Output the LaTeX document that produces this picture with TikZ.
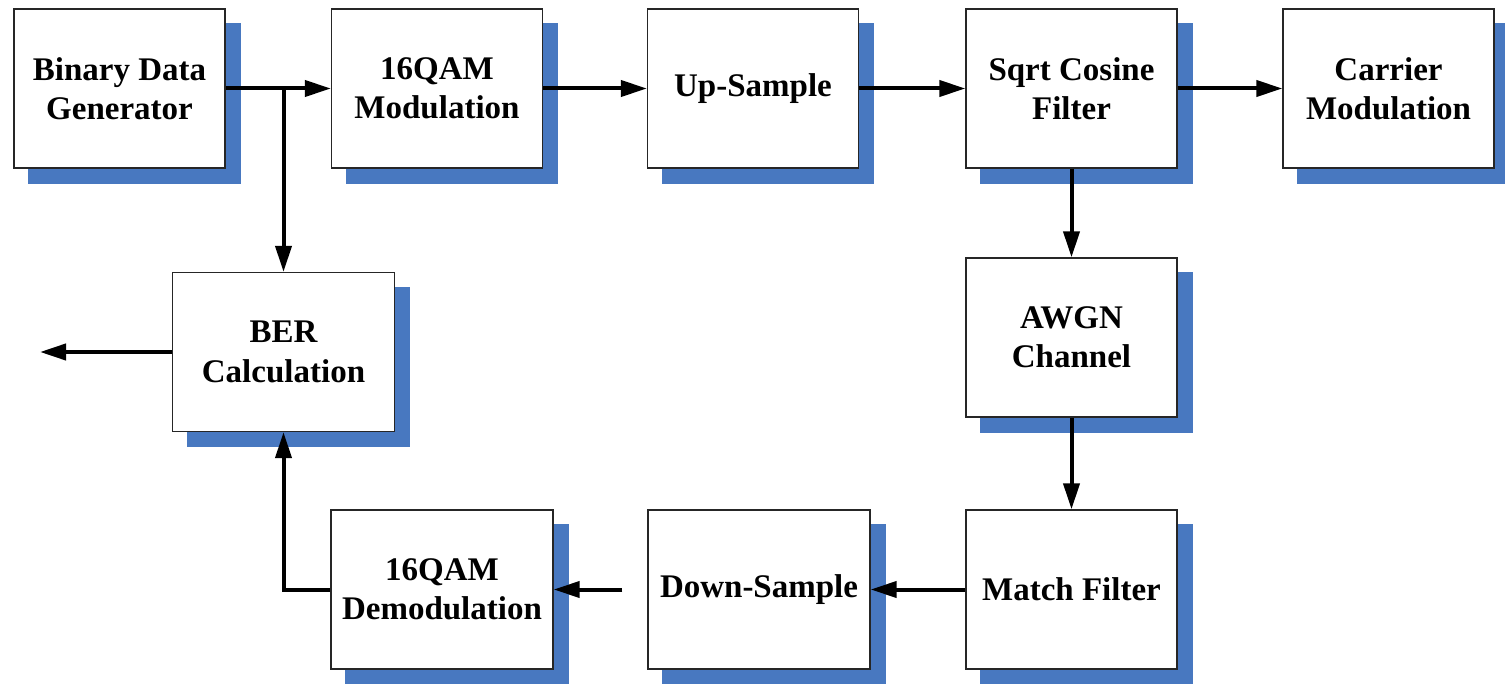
\documentclass[tikz,border=0pt]{standalone}
\usepackage{fontspec}
\setmainfont{Liberation Serif}
\usetikzlibrary{arrows.meta,calc,backgrounds}

\definecolor{shadowblue}{RGB}{72,120,192}
\tikzset{every picture/.style={line width=0.75pt}}
\tikzset{
  blockbox/.style={draw=black!85, line width=1pt, fill=white, minimum width=158.25pt, minimum height=119.25pt,
    inner sep=0pt, align=center, font=\fontsize{24.75}{29.5}\selectfont\bfseries},
  wideblock/.style={blockbox, minimum width=166.5pt},
  flow/.style={line width=3pt, -{Triangle[length=19.5pt,width=12pt]}}
}

\begin{document}
\begin{tikzpicture}[x=0.75pt,y=0.75pt,yscale=-1,xscale=1]
\useasboundingbox (0,0) rectangle (1505,684);

% Top row
\node [blockbox] (bdg) at (119.5,88.5) {Binary Data\\Generator};
\node [blockbox] (qam) at (437,88.5) {16QAM\\Modulation};
\node [blockbox] (ups) at (753,88.5) {Up-Sample};
\node [blockbox] (sqrt) at (1071.5,88.5) {Sqrt Cosine\\Filter};
\node [blockbox] (car) at (1388.5,88.5) {Carrier\\Modulation};
% Right column
\node [blockbox] (awgn) at (1071.5,337.5) {AWGN\\Channel};
\node [blockbox] (mf) at (1071.5,589.5) {Match Filter};
% Bottom row
\node [wideblock] (ds) at (759,589.5) {Down-Sample};
\node [wideblock] (dem) at (442,589.5) {16QAM\\Demodulation};
\node [wideblock] (ber) at (283.5,352) {BER\\Calculation};
\coordinate (out) at (40,352);

% Shadows
\begin{scope}[on background layer]
\foreach \n in {bdg,qam,ups,sqrt,car,awgn,mf,ds,dem,ber}
  \fill [shadowblue] ($(\n.north west)+(15,15)$) rectangle ($(\n.south east)+(15,15)$);
\end{scope}

% Connectors
\draw [flow] (bdg.east) -- (qam.west);
\draw [flow] (bdg.east -| ber.north) -- (ber.north);
\draw [flow] (qam.east) -- (ups.west);
\draw [flow] (ups.east) -- (sqrt.west);
\draw [flow] (sqrt.east) -- (car.west);
\draw [flow] (sqrt.south) -- (awgn.north);
\draw [flow] (awgn.south) -- (mf.north);
\draw [flow] (mf.west) -- (ds.east);
\draw [flow] ($(ds.west)+(-25,0)$) -- (dem.east);
\draw [flow] (dem.west) -| (ber.south);
\draw [flow] (ber.west) -- (out);

\end{tikzpicture}
\end{document}
